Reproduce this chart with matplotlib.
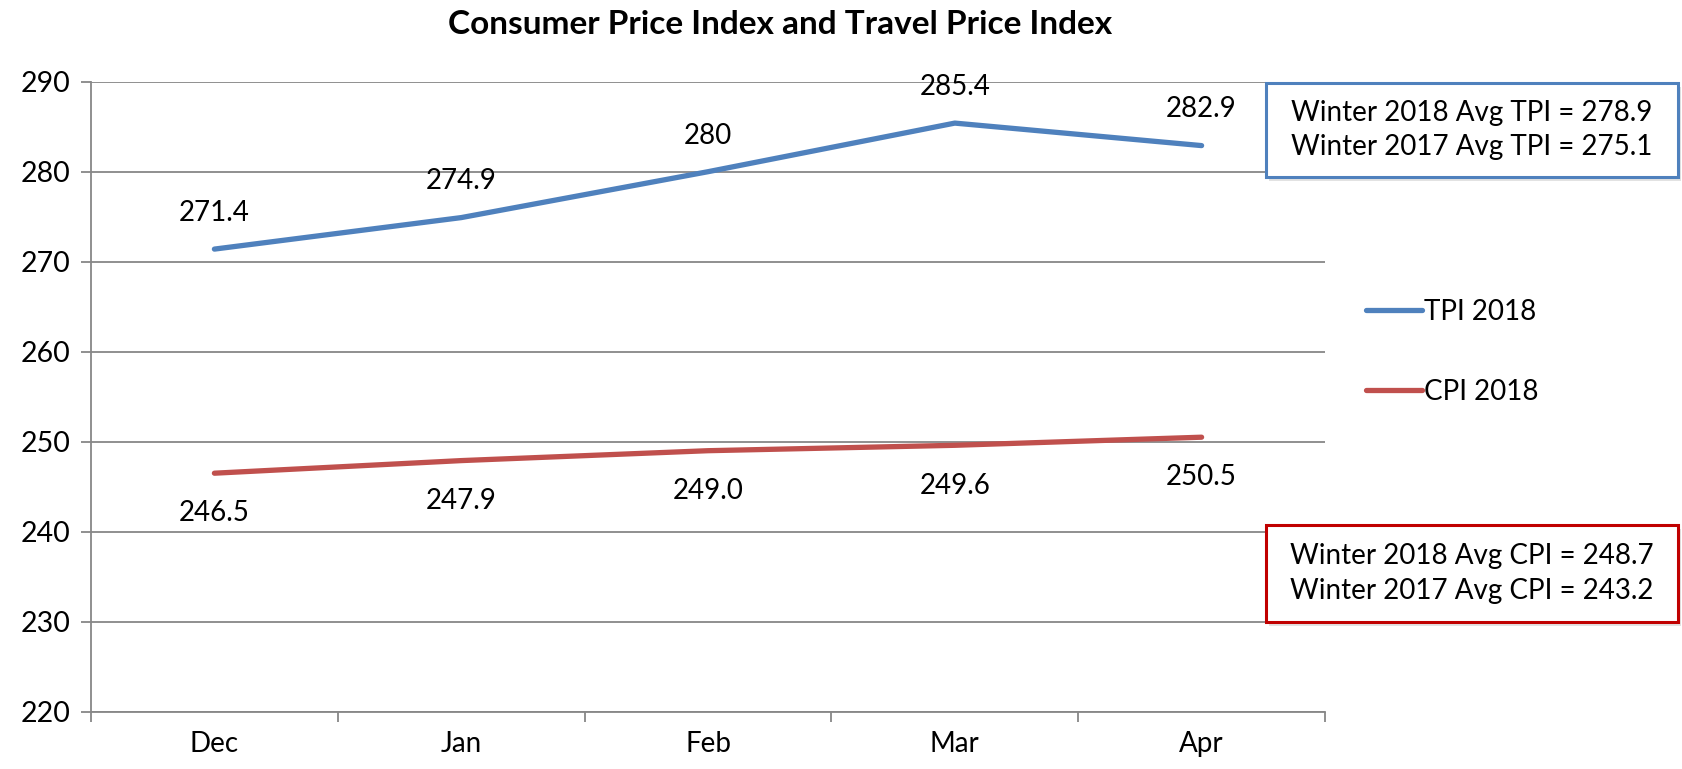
import numpy as np
import matplotlib
matplotlib.use("Agg")
import matplotlib.pyplot as plt
from matplotlib.patches import Rectangle

plt.rcParams['font.family'] = ['Lato', 'DejaVu Sans']

#data

months = ["Dec", "Jan", "Feb", "Mar", "Apr"]
tpi_2018 = [271.4, 274.9, 280, 285.4, 282.9]
cpi_2018 = [246.5, 247.9, 249.0, 249.6, 250.5]
tpi_labels = ["271.4", "274.9", "280", "285.4", "282.9"]
cpi_labels = ["246.5", "247.9", "249.0", "249.6", "250.5"]
tpi_box_text = ["Winter 2018 Avg TPI = 278.9", "Winter 2017 Avg TPI = 275.1"]
cpi_box_text = ["Winter 2018 Avg CPI = 248.7", "Winter 2017 Avg CPI = 243.2"]

blue = "#4F81BD"
red = "#C0504D"
grid_col = "#878787"

fig = plt.figure(figsize=(16.82, 7.69), dpi=100)
ax = fig.add_axes([91/1682, 1-711.7/769, (1325-91)/1682, (711.7-81.7)/769])

x = np.arange(len(months))
ax.plot(x, tpi_2018, color=blue, lw=3.8, solid_capstyle='round', label="TPI 2018", zorder=3)
ax.plot(x, cpi_2018, color=red, lw=3.8, solid_capstyle='round', label="CPI 2018", zorder=3)

#data labels, above for TPI and below for CPI
for xi, yi, s in zip(x, tpi_2018, tpi_labels):
	ax.annotate(s, (xi, yi), xytext=(0, 26), textcoords='offset points',
		ha='center', va='center', fontsize=20)
for xi, yi, s in zip(x, cpi_2018, cpi_labels):
	ax.annotate(s, (xi, yi), xytext=(0, -29), textcoords='offset points',
		ha='center', va='center', fontsize=20)

#axes, grid and ticks
ax.set_xlim(-0.5, 4.5)
ax.set_ylim(220, 290)
ax.set_yticks(np.arange(220, 291, 10))
ax.set_xticks(x)
ax.set_xticklabels(months)
ax.set_xticks(np.arange(-0.5, 4.6, 1), minor=True)
ax.tick_params(axis='x', which='major', length=0, pad=14, labelsize=20)
ax.tick_params(axis='x', which='minor', length=7, width=1.3, color=grid_col)
ax.tick_params(axis='y', length=7, width=1.3, color=grid_col, pad=8, labelsize=20.5)
ax.yaxis.grid(True, color=grid_col, lw=1.3)
ax.set_axisbelow(True)
for side in ['top', 'right']:
	ax.spines[side].set_visible(False)
for side in ['left', 'bottom']:
	ax.spines[side].set_color(grid_col)
	ax.spines[side].set_linewidth(1.3)

fig.text(780/1682, 1-24/769, "Consumer Price Index and Travel Price Index",
	ha='center', va='center', fontsize=24, fontweight='bold')

#legend at the right side
ax.legend(loc='center left', bbox_to_anchor=(1366/1682, 1-352/769),
	bbox_transform=fig.transFigure, frameon=False, fontsize=20,
	handlelength=2.0, handletextpad=0.1, labelspacing=1.95,
	borderpad=0, borderaxespad=0)

#the two boxes with the winter averages
def avg_box(y_top, y_bot, edge, lines):
	x0, x1 = 1266, 1678
	shadow = Rectangle((x0/1682 + 3/1682, 1-y_bot/769 - 4/769), (x1-x0)/1682, (y_bot-y_top)/769,
		transform=fig.transFigure, facecolor='#d0d0d0', edgecolor='none', alpha=0.6, zorder=1)
	box = Rectangle((x0/1682, 1-y_bot/769), (x1-x0)/1682, (y_bot-y_top)/769,
		transform=fig.transFigure, facecolor='white', edgecolor=edge, lw=2.2, zorder=2)
	fig.add_artist(shadow)
	fig.add_artist(box)
	fig.text((x0+x1)/2/1682, 1-(y_top+y_bot)/2/769, "\n".join(lines),
		ha='center', va='center', fontsize=20, linespacing=1.42, zorder=3)

avg_box(83, 177, blue, tpi_box_text)
avg_box(525, 622, "#C00000", cpi_box_text)

plt.savefig("out.png", dpi=100)
